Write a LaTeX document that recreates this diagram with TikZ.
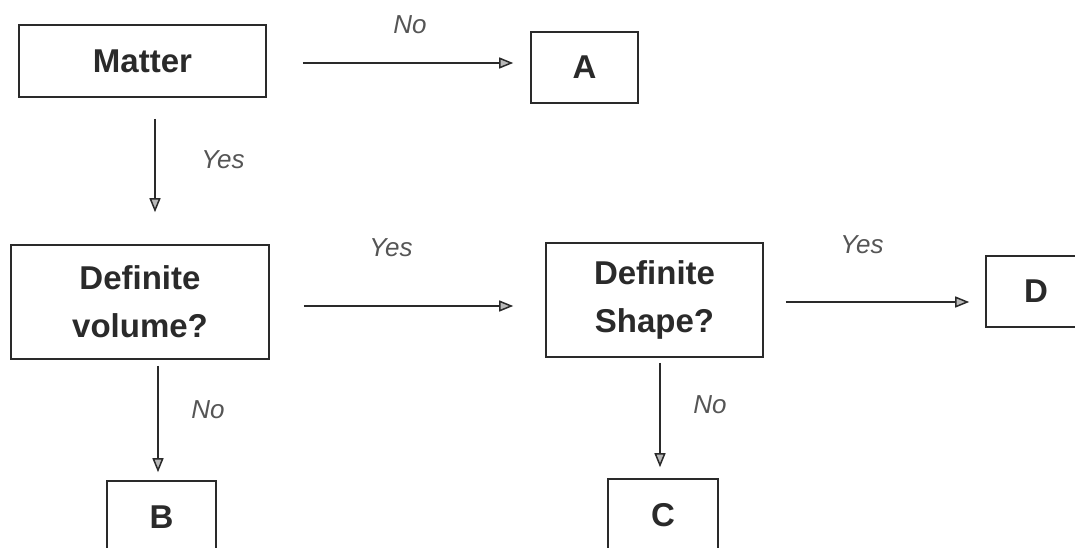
\documentclass[tikz,border=0pt]{standalone}
\usepackage{fontspec}
\setmainfont{Liberation Sans}
\usetikzlibrary{arrows.meta}
\definecolor{ink}{HTML}{2A2A2A}
\definecolor{labelgray}{HTML}{555555}
\tikzset{
  box/.style={draw=ink, line width=1.6pt, rectangle, align=center,
    font=\fontsize{33}{48}\selectfont\bfseries, text=ink, inner sep=0pt},
  lab/.style={font=\fontsize{26}{30}\selectfont\itshape, text=labelgray},
  arr/.style={draw=ink, line width=1.5pt,
    -{Triangle[length=14pt,width=11pt,fill=gray!55]}}
}
\begin{document}
\begin{tikzpicture}[x=1pt,y=-1pt]
\useasboundingbox (0,0) rectangle (1075,547);
\clip (0,0) rectangle (1075,547);
\fill[white] (0,0) rectangle (1075,547);

% decision boxes
\node[box, minimum width=247pt, minimum height=72pt]  (matter) at (142.5,61) {Matter};
\node[box, minimum width=107pt, minimum height=71pt]  (A)      at (584.5,67.5) {A};
\node[box, minimum width=258pt, minimum height=114pt] (volume) at (140,302) {Definite\\volume?};
\node[box, minimum width=217pt, minimum height=114pt] (shape)  at (654.5,300) {Definite\\Shape?};
\node[box, minimum width=100pt, minimum height=71pt]  (D)      at (1036,291.5) {D};
\node[box, minimum width=109pt, minimum height=72pt]  (B)      at (161.5,517) {B};
\node[box, minimum width=110pt, minimum height=72pt]  (C)      at (663,515) {C};

% branch labels
\node[lab] (l1) at (410,25)  {No};
\node[lab] (l2) at (223,160) {Yes};
\node[lab] (l3) at (391,248) {Yes};
\node[lab] (l4) at (862,245) {Yes};
\node[lab] (l5) at (208,410) {No};
\node[lab] (l6) at (710,405) {No};

% connectors
\draw[arr, shorten <=36pt, shorten >=17pt] ([yshift=-2pt]matter.east) -- ([yshift=-2pt]matter.east -| A.west);
\draw[arr, shorten <=34pt, shorten >=32pt] ([yshift=-4pt]volume.east) -- ([yshift=-4pt]volume.east -| shape.west);
\draw[arr, shorten <=22pt, shorten >=16pt] ([yshift=-2pt]shape.east) -- ([yshift=-2pt]shape.east -| D.west);
\draw[arr, shorten <=21pt, shorten >=32pt] ([xshift=12.5pt]matter.south) -- ([xshift=12.5pt]matter.south |- volume.north);
\draw[arr, shorten <=6pt, shorten >=8pt] ([xshift=18pt]volume.south) -- ([xshift=18pt]volume.south |- B.north);
\draw[arr, shorten <=5pt, shorten >=11pt] ([xshift=5.5pt]shape.south) -- ([xshift=5.5pt]shape.south |- C.north);
\end{tikzpicture}
\end{document}
